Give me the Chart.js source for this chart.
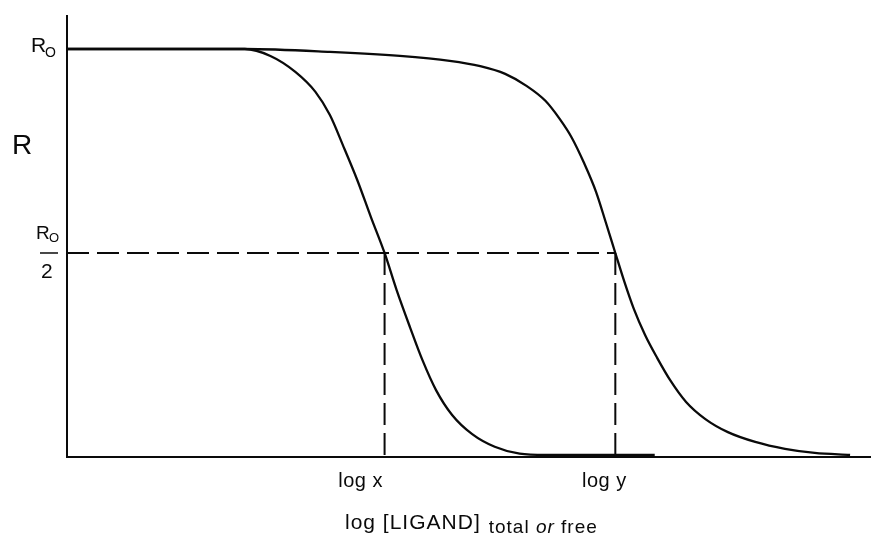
<!DOCTYPE html>
<html><head><meta charset="utf-8">
<script src="https://cdn.jsdelivr.net/npm/chart.js@4/dist/chart.umd.min.js"></script>
<style>html,body{margin:0;padding:0;background:#fff}canvas{display:block}</style>
</head><body>
<canvas id="c" width="871" height="539"></canvas>
<script>
// Occupancy R (in units of R0) against log ligand concentration
const logLigandTotal = [0, 2.21, 2.53, 2.84, 3.09, 3.27, 3.43, 3.61, 3.78, 3.95, 4.1, 4.27, 4.42, 4.59, 4.79, 5.04, 5.32, 5.63, 5.95, 7.31];
const occupancyTotal = [1, 1, 0.983, 0.944, 0.895, 0.838, 0.765, 0.679, 0.588, 0.5, 0.409, 0.316, 0.238, 0.164, 0.103, 0.056, 0.025, 0.008, 0.005, 0.005];
const logLigandFree = [0, 2.21, 3.27, 4.14, 4.76, 5.14, 5.45, 5.72, 5.95, 6.13, 6.28, 6.43, 6.58, 6.7, 6.82, 6.93, 7.05, 7.19, 7.34, 7.5, 7.7, 7.94, 8.22, 8.56, 8.93, 9.3, 9.74];
const occupancyFree = [1, 1, 0.993, 0.983, 0.971, 0.958, 0.939, 0.909, 0.873, 0.828, 0.782, 0.721, 0.65, 0.576, 0.5, 0.431, 0.363, 0.299, 0.243, 0.189, 0.135, 0.093, 0.061, 0.037, 0.02, 0.01, 0.005];
const halfOccupancy = 0.5;
const tickValues = [3.95, 6.82];
const tickLabels = ['log x', 'log y'];

const toPoints = (xs, ys) => xs.map((x, i) => ({x, y: ys[i]}));
const INK = '#0a0a0a';
const FONT = '"Liberation Sans", Arial, Helvetica, sans-serif';

const curve = (xs, ys) => ({
  data: toPoints(xs, ys), borderColor: INK, borderWidth: 2.3,
  pointRadius: 0, cubicInterpolationMode: 'monotone', fill: false, clip: false
});
const dashed = (pts) => ({
  data: pts, borderColor: INK, borderWidth: 2, borderDash: [22, 8],
  pointRadius: 0, tension: 0, fill: false, clip: false
});

const labelsPlugin = {
  id: 'figureLabels',
  beforeDatasetsDraw(chart) {
    const {ctx, chartArea: a} = chart;
    ctx.save();
    ctx.strokeStyle = INK; ctx.lineWidth = 2;
    ctx.beginPath();
    ctx.moveTo(a.left, a.top); ctx.lineTo(a.left, a.bottom); ctx.lineTo(a.right, a.bottom);
    ctx.stroke();
    ctx.restore();
  },
  afterDraw(chart) {
    const {ctx, scales: {x, y}} = chart;
    ctx.save();
    ctx.fillStyle = INK; ctx.textBaseline = 'alphabetic'; ctx.textAlign = 'left';
    const p1 = y.getPixelForValue(1);
    const ph = y.getPixelForValue(halfOccupancy);
    // R0 at full occupancy
    ctx.font = '21px ' + FONT; ctx.fillText('R', 31, p1 + 3);
    ctx.font = '14px ' + FONT; ctx.fillText('O', 45, p1 + 8);
    // R0 / 2
    ctx.font = '19px ' + FONT; ctx.fillText('R', 36, ph - 14);
    ctx.font = '13px ' + FONT; ctx.fillText('O', 49, ph - 11);
    ctx.lineWidth = 1.5; ctx.strokeStyle = INK;
    ctx.beginPath(); ctx.moveTo(40, ph); ctx.lineTo(58, ph); ctx.stroke();
    ctx.font = '21px ' + FONT; ctx.fillText('2', 41, ph + 25);
    // axis title R
    ctx.font = '28px ' + FONT; ctx.fillText('R', 12, 154);
    // log x / log y, set slightly left of their drop lines
    const shift = [-24, -11];
    ctx.font = '20px ' + FONT; ctx.textAlign = 'center';
    ctx.letterSpacing = '0.5px';
    tickValues.forEach((v, i) => ctx.fillText(tickLabels[i], x.getPixelForValue(v) + shift[i], 487));
    // x axis title
    ctx.textAlign = 'left';
    ctx.font = '21px ' + FONT; ctx.letterSpacing = '1px';
    let cx = 345;
    ctx.fillText('log [LIGAND]', cx, 529);
    cx += ctx.measureText('log [LIGAND]').width + 8;
    ctx.font = '19px ' + FONT; ctx.letterSpacing = '1px';
    ctx.fillText('total ', cx, 533); cx += ctx.measureText('total ').width;
    ctx.font = 'italic 19px ' + FONT;
    ctx.fillText('or', cx, 533); cx += ctx.measureText('or ').width;
    ctx.font = '19px ' + FONT;
    ctx.fillText('free', cx, 533);
    ctx.restore();
  }
};

new Chart(document.getElementById('c'), {
  type: 'line',
  data: {
    datasets: [
      curve(logLigandTotal, occupancyTotal),
      curve(logLigandFree, occupancyFree),
      dashed([{x: 0, y: halfOccupancy}, {x: tickValues[1], y: halfOccupancy}]),
      dashed([{x: tickValues[0], y: halfOccupancy}, {x: tickValues[0], y: 0}]),
      dashed([{x: tickValues[1], y: halfOccupancy}, {x: tickValues[1], y: 0}])
    ]
  },
  options: {
    responsive: false, animation: false, devicePixelRatio: 1,
    layout: {padding: {left: 67, top: 15, right: 0, bottom: 82}},
    scales: {
      x: {type: 'linear', min: 0, max: 10, display: false},
      y: {type: 'linear', min: 0, max: 1.0833, display: false}
    },
    plugins: {legend: {display: false}, tooltip: {enabled: false}}
  },
  plugins: [labelsPlugin]
});
</script>
</body></html>
